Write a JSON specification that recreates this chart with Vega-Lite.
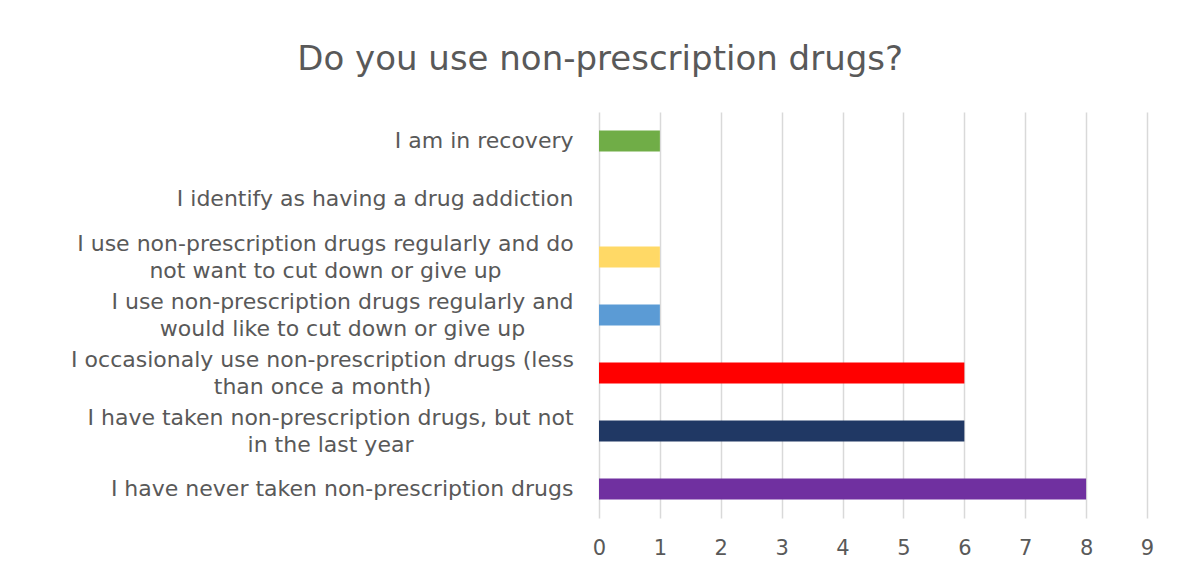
{
  "$schema": "https://vega.github.io/schema/vega-lite/v6.json",
  "width": 548,
  "height": 406,
  "autosize": {"type": "none"},
  "padding": {"left": 599, "top": 112, "right": 34, "bottom": 49},
  "background": "white",
  "title": {
    "text": "Do you use non-prescription drugs?",
    "anchor": "middle",
    "frame": "bounds",
    "font": "DejaVu Sans",
    "fontSize": 34,
    "fontWeight": "normal",
    "color": "#595959",
    "offset": 35,
    "dx": -12
  },
  "data": {
    "values": [
      {"answer": "I am in recovery", "count": 1},
      {"answer": "I identify as having a drug addiction", "count": 0},
      {"answer": "I use non-prescription drugs regularly and do not want to cut down or give up", "count": 1},
      {"answer": "I use non-prescription drugs regularly and would like to cut down or give up", "count": 1},
      {"answer": "I occasionaly use non-prescription drugs (less than once a month)", "count": 6},
      {"answer": "I have taken non-prescription drugs, but not in the last year", "count": 6},
      {"answer": "I have never taken non-prescription drugs", "count": 8}
    ]
  },
  "mark": {"type": "bar", "size": 21},
  "encoding": {
    "y": {
      "field": "answer",
      "type": "nominal",
      "sort": null,
      "title": null,
      "axis": {
        "domain": false,
        "ticks": false,
        "labelFont": "DejaVu Sans",
        "labelFontSize": 22,
        "labelColor": "#595959",
        "labelLimit": 600,
        "labelLineHeight": 27,
        "labelAlign": {"condition": {"test": "length(datum.value) > 45", "value": "center"}, "value": "right"},
        "labelPadding": {"condition": [
          {"test": "indexof(datum.value, 'do not want') >= 0", "value": 274},
          {"test": "indexof(datum.value, 'would like') >= 0", "value": 257},
          {"test": "indexof(datum.value, 'occasionaly') >= 0", "value": 277},
          {"test": "indexof(datum.value, 'but not') >= 0", "value": 269}
        ], "value": 26},
        "labelOffset": {"condition": {"test": "length(datum.value) > 45", "value": -13.5}, "value": 0},
        "labelExpr": "datum.value == 'I use non-prescription drugs regularly and do not want to cut down or give up' ? ['I use non-prescription drugs regularly and do', 'not want to cut down or give up'] : datum.value == 'I use non-prescription drugs regularly and would like to cut down or give up' ? ['I use non-prescription drugs regularly and', 'would like to cut down or give up'] : datum.value == 'I occasionaly use non-prescription drugs (less than once a month)' ? ['I occasionaly use non-prescription drugs (less', 'than once a month)'] : datum.value == 'I have taken non-prescription drugs, but not in the last year' ? ['I have taken non-prescription drugs, but not', 'in the last year'] : datum.value"
      }
    },
    "x": {
      "field": "count",
      "type": "quantitative",
      "scale": {"domain": [0, 9], "nice": false},
      "title": null,
      "axis": {
        "values": [0, 1, 2, 3, 4, 5, 6, 7, 8, 9],
        "domain": false,
        "ticks": false,
        "grid": true,
        "gridColor": "#d9d9d9",
        "gridWidth": 1.5,
        "labelFlush": false,
        "labelFont": "DejaVu Sans",
        "labelFontSize": 21,
        "labelColor": "#595959",
        "labelPadding": 19
      }
    },
    "color": {
      "field": "answer",
      "type": "nominal",
      "legend": null,
      "scale": {
        "domain": [
          "I am in recovery",
          "I identify as having a drug addiction",
          "I use non-prescription drugs regularly and do not want to cut down or give up",
          "I use non-prescription drugs regularly and would like to cut down or give up",
          "I occasionaly use non-prescription drugs (less than once a month)",
          "I have taken non-prescription drugs, but not in the last year",
          "I have never taken non-prescription drugs"
        ],
        "range": ["#70ad47", "#a5a5a5", "#ffd966", "#5b9bd5", "#ff0000", "#203864", "#7030a0"]
      }
    }
  },
  "config": {"view": {"stroke": null}}
}
